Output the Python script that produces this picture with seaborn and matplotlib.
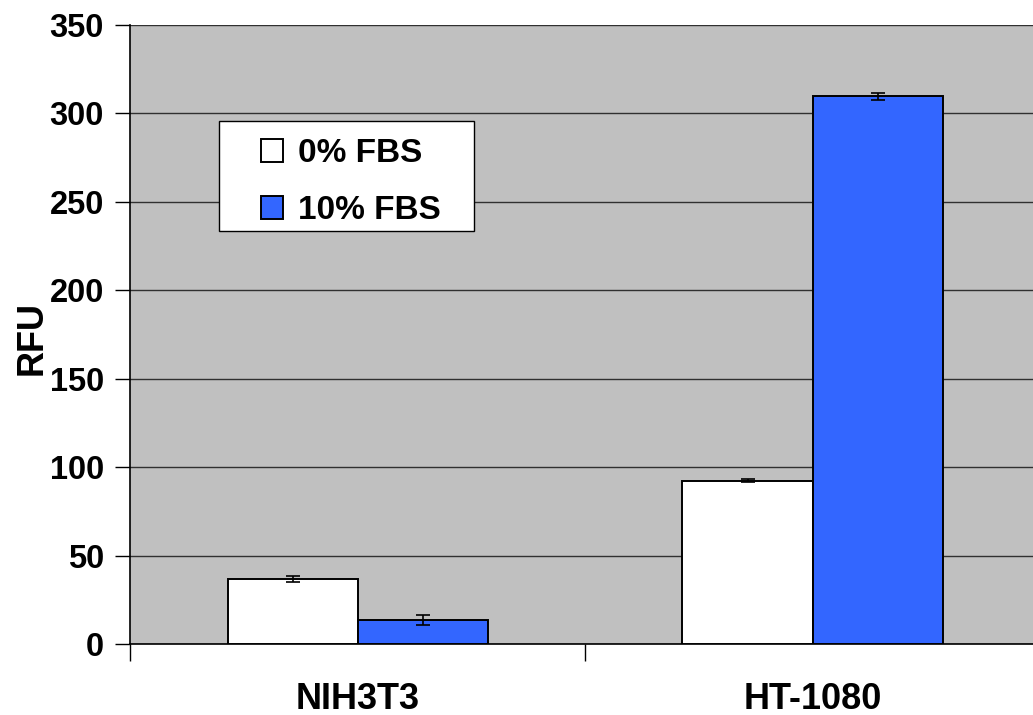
import matplotlib
matplotlib.use("Agg")
import matplotlib.pyplot as plt
from matplotlib.patches import Rectangle
import seaborn as sns
import pandas as pd

categories = ["NIH3T3", "HT-1080"]
series_names = ["0% FBS", "10% FBS"]
values_0 = [36.8, 92.4]
values_10 = [13.6, 309.6]
err_0 = [1.6, 0.8]
err_10 = [2.8, 2.0]
y_ticks = [0, 50, 100, 150, 200, 250, 300, 350]
colors = ["#FFFFFF", "#3366FF"]

df = pd.DataFrame({
    "cell": categories * 2,
    "serum": [series_names[0]] * 2 + [series_names[1]] * 2,
    "RFU": values_0 + values_10,
})

sns.set_theme(style="white")
plt.rcParams["font.family"] = ["Liberation Sans", "DejaVu Sans"]
plt.rcParams["font.weight"] = "bold"
plt.rcParams["text.color"] = "black"
plt.rcParams["axes.labelcolor"] = "black"
plt.rcParams["xtick.color"] = "black"
plt.rcParams["ytick.color"] = "black"

W, H = 1033, 715
fig = plt.figure(figsize=(W / 100, H / 100), dpi=100)
left, right = 130.3 / W, 1040 / W
bottom, top = (H - 644.3) / H, (H - 25) / H
ax = fig.add_axes([left, bottom, right - left, top - bottom])
ax.set_facecolor("#C0C0C0")

sns.barplot(data=df, x="cell", y="RFU", hue="serum", order=categories,
            hue_order=series_names, palette=colors, saturation=1,
            width=0.572, edgecolor="black", linewidth=1.4, errorbar=None,
            ax=ax, zorder=3)

# error bars placed using the drawn bar geometry
for cont, errs in zip(ax.containers, [err_0, err_10]):
    for patch, e in zip(cont.patches, errs):
        xc = patch.get_x() + patch.get_width() / 2
        ax.errorbar(xc, patch.get_height(), yerr=e, fmt="none",
                    ecolor="black", elinewidth=1.2, capsize=5,
                    capthick=1.2, zorder=4)

ax.set_ylim(0, 350)
ax.set_xlim(-0.5, 1.5)
ax.set_yticks(y_ticks)
ax.set_yticklabels([str(v) for v in y_ticks], fontsize=23.5,
                   fontweight="bold", color="black")
ax.yaxis.grid(True, color="#303030", linewidth=1.0)
ax.set_axisbelow(True)
ax.tick_params(axis="y", which="major", length=11, width=1, color="black",
               left=True, pad=8)

ax.set_xticks([0, 1])
ax.set_xticklabels(categories, fontsize=26, fontweight="bold", color="black")
ax.tick_params(axis="x", which="major", length=0, pad=27)
ax.set_xticks([-0.5, 0.5, 1.5], minor=True)
ax.tick_params(axis="x", which="minor", length=12, width=1, color="black",
               bottom=True)

ax.set_xlabel("")
ax.set_ylabel("RFU", fontsize=26, fontweight="bold", color="black")
ax.yaxis.set_label_coords(-0.0885, 0.495)

for s in ["top", "right"]:
    ax.spines[s].set_visible(False)
for s in ["left", "bottom"]:
    ax.spines[s].set_color("black")
    ax.spines[s].set_linewidth(1.2)

# legend frame box
ax.add_patch(Rectangle((219 / W, 1 - 231 / H), (474 - 219) / W,
                       (231 - 121) / H, transform=fig.transFigure,
                       facecolor="white", edgecolor="black",
                       linewidth=1.0, zorder=5, clip_on=False))

leg = ax.legend(loc="upper left", bbox_to_anchor=(243 / W, 1 - 120 / H),
                bbox_transform=fig.transFigure, borderaxespad=0,
                frameon=False, prop={"size": 24, "weight": "bold"},
                handlelength=0.66, handleheight=0.66, handletextpad=0.45,
                labelspacing=0.78, borderpad=0.55, title=None)
leg.set_zorder(6)
for t in leg.get_texts():
    t.set_color("black")

fig.savefig("out.png", dpi=100)
